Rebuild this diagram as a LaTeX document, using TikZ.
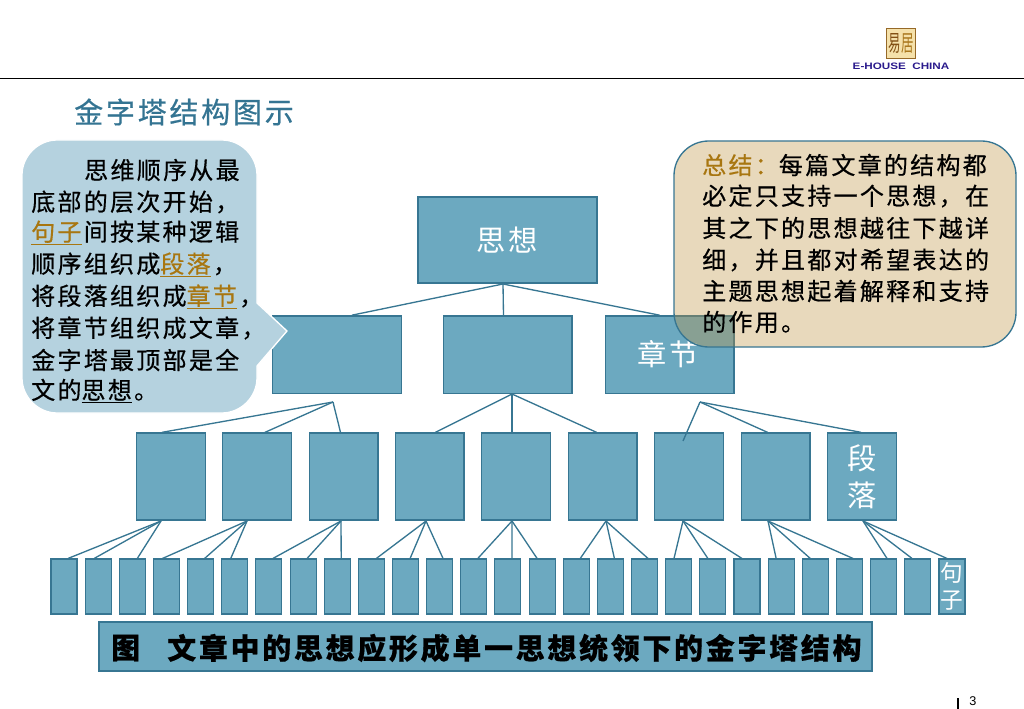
\documentclass[tikz,border=0pt]{standalone}
\usepackage{fontspec}
\setmainfont{Liberation Sans}
\newfontfamily\cjk[LetterSpace=9.5,FakeBold=0.5]{Noto Sans CJK SC}
\newfontfamily\cjkwhite[LetterSpace=9.5]{Noto Sans CJK SC}
\newfontfamily\cjkplain{Noto Sans CJK SC}
\definecolor{boxfill}{RGB}{108,169,192}
\definecolor{boxline}{RGB}{55,118,146}
\definecolor{calloutblue}{RGB}{181,210,223}
\definecolor{calloutsand}{RGB}{189,146,64}
\definecolor{gold}{RGB}{168,118,16}
\definecolor{titleblue}{RGB}{52,116,146}
\definecolor{logoblue}{RGB}{42,26,140}
\tikzset{
  x=0.75pt,y=-0.75pt,
  box/.style={draw=boxline,line width=1pt,fill=boxfill,inner sep=0pt,text=white,align=center},
  lvla/.style={box,minimum width=134.25pt,minimum height=64.5pt,font=\cjkwhite\fontsize{22}{26}\selectfont},
  lvlb/.style={box,minimum width=96.5pt,minimum height=58pt,font=\cjkwhite\fontsize{22}{26}\selectfont},
  lvlc/.style={box,minimum width=51.5pt,minimum height=65.25pt,font=\cjkwhite\fontsize{22}{28}\selectfont},
  lvld/.style={box,line width=.8pt,minimum width=19.5pt,minimum height=41.25pt,font=\cjkplain\fontsize{17}{20.5}\selectfont},
  link/.style={draw=boxline,line width=1pt},
  textline/.style={anchor=west,inner sep=0pt,font=\cjk\fontsize{18}{22}\selectfont,text=black},
}
\newcommand{\gu}[1]{\textcolor{gold}{\underline{#1}}\kern1.7pt}
\begin{document}
\begin{tikzpicture}
\useasboundingbox (0,0) rectangle (1024,709);
% header
\coordinate (ruleL) at (0,78.5);
\coordinate (ruleR) at (1024,78.5);
\draw[black,line width=1.4pt] (ruleL) -- (ruleR);
\node[draw={rgb,255:red,150;green,105;blue,40},line width=.6pt,fill={rgb,255:red,245;green,225;blue,170},minimum width=22pt,minimum height=22pt,inner sep=0pt] (logo) at (901,43.5) {};
\node[inner sep=0pt,xscale=.55,text={rgb,255:red,130;green,80;blue,20},font=\cjkplain\fontsize{17}{17}\selectfont] (logoa) at (894.5,43.5) {易};
\node[inner sep=0pt,xscale=.55,text={rgb,255:red,170;green,120;blue,30},font=\cjkplain\fontsize{17}{17}\selectfont] (logob) at (907.5,43.5) {居};
\node[inner sep=0pt,text=logoblue,xscale=1.25,font=\bfseries\fontsize{7}{8}\selectfont] (brand) at (901,66.5) {E-HOUSE\ \ CHINA};
% title
\node[anchor=west,inner sep=0pt,text=titleblue,font=\cjk\fontsize{21.75}{26}\selectfont] (title) at (74,112) {金字塔结构图示};
% coordinates where the connectors meet
\coordinate (hubA) at (503,284);
\coordinate (hubB1) at (333,402);
\coordinate (hubB2) at (512,394);
\coordinate (hubB3) at (700,402);
\coordinate (hubC1) at (161,521);
\coordinate (hubC2) at (247,521);
\coordinate (hubC3) at (341,521);
\coordinate (hubC4) at (426,521);
\coordinate (hubC5) at (512,521);
\coordinate (hubC6) at (606,521);
\coordinate (hubC7) at (683,521);
\coordinate (hubC8) at (768,521);
\coordinate (hubC9) at (863,521);
\coordinate (lowC7) at (683,441);
% boxes
\node[lvla] (top) at (507.5,240) {思想};
\node[lvlb] (b1) at (337,354.5) {};
\node[lvlb] (b2) at (507.5,354.5) {};
\node[lvlb] (b3) at (669.5,354.5) {};
\foreach \i/\x in {1/171,2/257,3/343.5,4/429.5,5/516,6/602.5,7/689,8/775.5}
  \node[lvlc] (c\i) at (\x,476.5) {};
\node[lvlc] (c9) at (862,476.5) {段\\落};
\foreach \i in {1,...,26}
  \node[lvld] (d\i) at ({64+34.15*(\i-1)},586.5) {};
\node[lvld] (d27) at (952,586.5) {句\\子};
% connectors
\foreach \h/\t/\dx in {hubA/b1/15,hubA/b2/-4,hubA/b3/-10,
  hubB1/c1/-9,hubB1/c2/8,hubB1/c3/-3,
  hubB2/c4/6,hubB2/c5/-4,hubB2/c6/-6,
  hubB3/c8/-8,hubB3/c9/-1}
  \draw[link] (\h) -- ([xshift=\dx*0.75pt]\t.north);
\draw[link] (hubB3) -- (lowC7);
\foreach \h/\t/\dx in {
  hubC1/d1/4,hubC1/d2/-4,hubC1/d3/5,
  hubC2/d4/-4,hubC2/d5/4,hubC2/d6/-4,
  hubC3/d7/4,hubC3/d8/4,hubC3/d9/4,
  hubC4/d10/5,hubC4/d11/4.6,hubC4/d12/3.4,
  hubC5/d13/4,hubC5/d14/4,hubC5/d15/-5,
  hubC6/d16/4,hubC6/d17/4,hubC6/d18/3.5,
  hubC7/d19/-4.7,hubC7/d20/-5,hubC7/d21/-5,
  hubC8/d22/-5,hubC8/d23/-5,hubC8/d24/3.6,
  hubC9/d25/3.4,hubC9/d26/-5.7,hubC9/d27/-5}
  \draw[link] (\h) -- ([xshift=\dx*0.75pt]\t.north);
\node[lvlb,draw=none,fill=none] (b3label) at (668,354) {章节};
% left callout
\path[fill=calloutblue,draw=white,line width=1pt] (57,140) -- (222,140) .. controls (241,140) and (257,156) .. (257,175) -- (257,303) -- (287,331) -- (257,366) -- (257,378) .. controls (257,397) and (241,413) .. (222,413) -- (57,413) .. controls (38,413) and (22,397) .. (22,378) -- (22,175) .. controls (22,156) and (38,140) .. (57,140) -- cycle;
\node[textline] (la) at (84,170) {思维顺序从最};
\node[textline] (lb) at (31,202) {底部的层次开始，};
\node[textline] (lc) at (31,233) {\gu{句子}间按某种逻辑};
\node[textline] (ld) at (31,265) {顺序组织成\gu{段落}，};
\node[textline] (le) at (31,297) {将段落组织成\gu{章节}，};
\node[textline] (lf) at (31,328) {将章节组织成文章，};
\node[textline] (lg) at (31,360) {金字塔最顶部是全};
\node[textline] (lh) at (31,391) {文的\underline{思想}\kern1.7pt。};
% right callout
\node[draw=boxline,line width=1pt,fill=calloutsand,fill opacity=.35,draw opacity=1,rounded corners=26pt,minimum width=256.5pt,minimum height=154.5pt,inner sep=0pt] (summary) at (845,244) {};
\node[textline] (ra) at (702,165) {\textcolor{gold}{总结：}每篇文章的结构都};
\node[textline] (rb) at (702,196) {必定只支持一个思想，在};
\node[textline] (rc) at (702,228) {其之下的思想越往下越详};
\node[textline] (rd) at (702,260) {细，并且都对希望表达的};
\node[textline] (re) at (702,291) {主题思想起着解释和支持};
\node[textline] (rf) at (702,322) {的作用。};
% caption
\node[box,minimum width=579.75pt,minimum height=36.75pt] (capbox) at (485.5,646.5) {};
\node[anchor=west,inner sep=0pt,text=black,font=\cjk\bfseries\fontsize{21.7}{25}\selectfont] (capa) at (111,648) {图};
\node[anchor=west,inner sep=0pt,text=black,font=\cjk\bfseries\fontsize{21.7}{25}\selectfont] (capb) at (167,648) {文章中的思想应形成单一思想统领下的金字塔结构};
% page number
\coordinate (pgT) at (958,698);
\coordinate (pgB) at (958,709);
\draw[black,line width=1pt] (pgT) -- (pgB);
\node[inner sep=0pt,font=\fontsize{9.5}{10}\selectfont] (pg) at (973,701) {3};
\end{tikzpicture}
\end{document}
